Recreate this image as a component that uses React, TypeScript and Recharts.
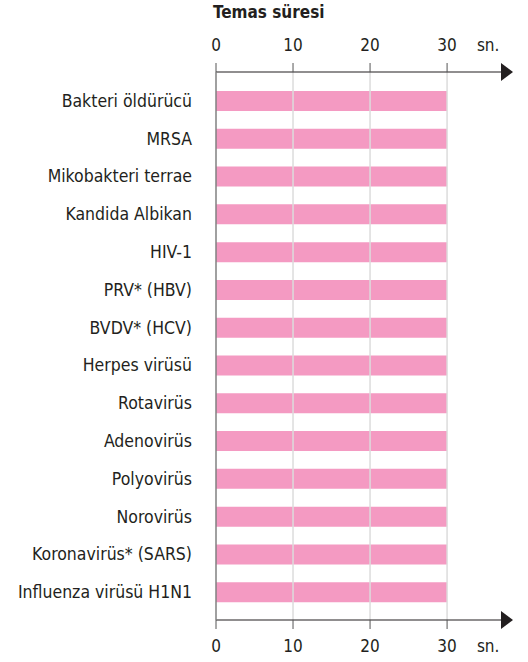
import React from 'react';
import { BarChart, Bar, XAxis, YAxis, ReferenceLine } from 'recharts';

const categories = [
  'Bakteri öldürücü',
  'MRSA',
  'Mikobakteri terrae',
  'Kandida Albikan',
  'HIV-1',
  'PRV* (HBV)',
  'BVDV* (HCV)',
  'Herpes virüsü',
  'Rotavirüs',
  'Adenovirüs',
  'Polyovirüs',
  'Norovirüs',
  'Koronavirüs* (SARS)',
  'Influenza virüsü H1N1',
];
const durations = [30, 30, 30, 30, 30, 30, 30, 30, 30, 30, 30, 30, 30, 30];
const tickValues = [0, 10, 20, 30];
const gridValues = [10, 20, 30];
const unitLabel = 'sn.';
const title = 'Temas süresi';

const data = categories.map((name, i) => ({ name, value: durations[i] }));

const FONT = "'DejaVu Sans Condensed', 'Liberation Sans Narrow', 'Liberation Sans', sans-serif";
const TEXT = '#231f20';
const UNIT_AT = 34;
const AXIS_MAX = 37;

const AxisTick = (props: any) => {
  const { x, y, payload, orientation } = props;
  const v = payload.value;
  const dir = orientation === 'top' ? -1 : 1;
  if (v === AXIS_MAX) {
    return (
      <polygon points={`${x},${y - 9} ${x + 12},${y} ${x},${y + 9}`} fill={TEXT} />
    );
  }
  const labelY = orientation === 'top' ? y - 21 : y + 32;
  if (v === UNIT_AT) {
    return (
      <text x={x - 1} y={labelY} fill={TEXT} fontSize={17} fontFamily={FONT} textAnchor="start">
        {unitLabel}
      </text>
    );
  }
  return (
    <g>
      <line x1={x} y1={y} x2={x} y2={y + dir * 9} stroke="#555" strokeWidth={1} />
      <text x={x} y={labelY} fill={TEXT} fontSize={17} fontFamily={FONT} textAnchor="middle">
        {v}
      </text>
    </g>
  );
};

const CategoryTick = (props: any) => {
  const { x, y, payload } = props;
  return (
    <text x={x} y={y} dy={6} fill={TEXT} fontSize={17.5} fontFamily={FONT} textAnchor="end">
      {payload.value}
    </text>
  );
};

export default function App() {
  return (
    <div style={{ position: 'absolute', left: 0, top: 0, width: 528, height: 662, background: '#fff' }}>
      <div
        style={{
          position: 'absolute',
          left: 213,
          top: 2,
          fontFamily: FONT,
          fontWeight: 'bold',
          fontSize: 17,
          lineHeight: '20px',
          color: TEXT,
        }}
      >
        {title}
      </div>
      <BarChart
        layout="vertical"
        width={528}
        height={662}
        data={data}
        margin={{ top: 0, right: 27, bottom: 0, left: 0 }}
      >
        <XAxis
          xAxisId="top"
          orientation="top"
          type="number"
          domain={[0, AXIS_MAX]}
          allowDataOverflow
          ticks={[...tickValues, UNIT_AT, AXIS_MAX]}
          interval={0}
          height={72}
          axisLine={{ stroke: TEXT, strokeWidth: 1.2 }}
          tickLine={false}
          tickSize={0}
          tickMargin={0}
          tick={<AxisTick orientation="top" />}
        />
        <XAxis
          xAxisId="bottom"
          orientation="bottom"
          type="number"
          domain={[0, AXIS_MAX]}
          allowDataOverflow
          ticks={[...tickValues, UNIT_AT, AXIS_MAX]}
          interval={0}
          height={42}
          axisLine={{ stroke: TEXT, strokeWidth: 1.2 }}
          tickLine={false}
          tickSize={0}
          tickMargin={0}
          tick={<AxisTick orientation="bottom" />}
        />
        <YAxis
          type="category"
          dataKey="name"
          width={216}
          interval={0}
          padding={{ top: 10, bottom: 9 }}
          axisLine={{ stroke: '#808080', strokeWidth: 1.5 }}
          tickLine={false}
          tickSize={0}
          tickMargin={24}
          tick={<CategoryTick />}
        />
        {gridValues.map((g) => (
          <ReferenceLine key={g} xAxisId="top" x={g} stroke="#dcdcdc" strokeWidth={1.5} />
        ))}
        <Bar xAxisId="top" dataKey="value" fill="#f49ac2" barSize={20} isAnimationActive={false} />
      </BarChart>
    </div>
  );
}
